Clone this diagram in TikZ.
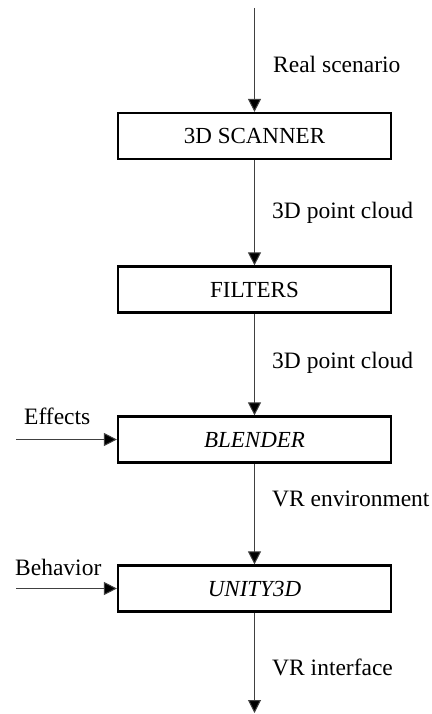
\documentclass[tikz,border=0pt]{standalone}
\usepackage{fontspec}
\setmainfont{Liberation Serif}
\usetikzlibrary{arrows.meta}
\begin{document}
\begin{tikzpicture}[x=1pt,y=-1pt,
  blk/.style={draw=black,line width=2.2pt,minimum width=273pt,minimum height=46pt,inner sep=0pt,font=\fontsize{23}{27}\selectfont},
  lbl/.style={font=\fontsize{23.5}{27}\selectfont,inner sep=0pt},
  flow/.style={draw=black!75,line width=1pt,-{Triangle[length=13pt,width=13pt,fill=black]}}]
\useasboundingbox (0,0) rectangle (431,714);
\node[blk] (scan) at (254.5,136) {3D SCANNER};
\node[blk] (filt) at (254.5,289.5) {FILTERS};
\node[blk] (blend) at (254.5,439.5) {\itshape BLENDER};
\node[blk] (unity) at (254.5,588.5) {\itshape UNITY3D};
\coordinate (top) at (254.5,8);
\coordinate (bot) at (254.5,713);
\coordinate (eff) at (16,439.5);
\coordinate (beh) at (16,588.5);
\draw[flow] (top) -- (scan);
\draw[flow] (scan) -- (filt);
\draw[flow] (filt) -- (blend);
\draw[flow] (blend) -- (unity);
\draw[flow] (unity) -- (bot);
\draw[flow] (eff) -- (blend);
\draw[flow] (beh) -- (unity);
\node[lbl,anchor=west] (l1) at (273,64) {Real scenario};
\node[lbl,anchor=west] (l2) at (272,213) {3D point cloud};
\node[lbl,anchor=west] (l3) at (272,363) {3D point cloud};
\node[lbl,anchor=west] (l4) at (272,499) {VR environment};
\node[lbl,anchor=west] (l5) at (272,667) {VR interface};
\node[lbl,anchor=west] (l6) at (24,416) {Effects};
\node[lbl,anchor=west] (l7) at (15,567) {Behavior};
\end{tikzpicture}
\end{document}
